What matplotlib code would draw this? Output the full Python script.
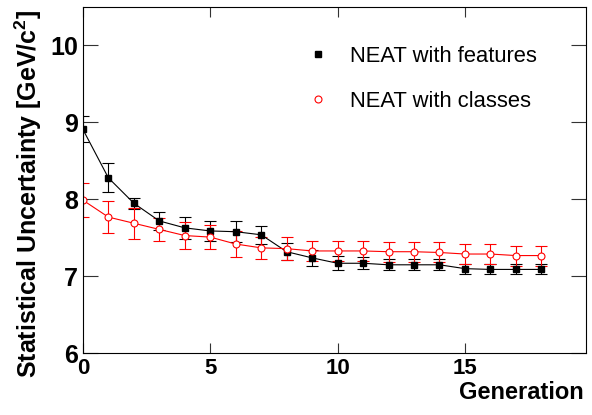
import numpy as np
import matplotlib
matplotlib.use('Agg')
import matplotlib.pyplot as plt
from matplotlib.lines import Line2D

plt.rcParams['font.family'] = ['Liberation Sans', 'DejaVu Sans']
plt.rcParams['mathtext.fontset'] = 'custom'
plt.rcParams['mathtext.rm'] = 'Liberation Sans:bold'

# data
generation = list(range(19))
feat_val = [8.91, 8.28, 7.95, 7.72, 7.63, 7.59, 7.58, 7.54, 7.32, 7.24,
            7.17, 7.17, 7.15, 7.15, 7.15, 7.10, 7.09, 7.09, 7.09]
feat_err = [0.17, 0.19, 0.07, 0.12, 0.14, 0.13, 0.14, 0.12, 0.11, 0.10,
            0.09, 0.08, 0.07, 0.07, 0.07, 0.065, 0.065, 0.065, 0.065]
cls_val = [7.99, 7.77, 7.69, 7.61, 7.53, 7.51, 7.42, 7.37, 7.36, 7.33,
           7.33, 7.33, 7.32, 7.32, 7.31, 7.29, 7.29, 7.27, 7.27]
cls_err = [0.22, 0.21, 0.20, 0.15, 0.17, 0.16, 0.17, 0.14, 0.15, 0.13,
           0.13, 0.13, 0.13, 0.13, 0.13, 0.13, 0.13, 0.13, 0.13]
xticks = [0, 5, 10, 15]
yticks = [6, 7, 8, 9, 10]

fig = plt.figure(figsize=(5.92, 4.15), dpi=100)
ax = fig.add_axes([82.9/592, 1-353.3/415, (585.7-82.9)/592, (353.3-7)/415])

ax.errorbar(generation, feat_val, yerr=feat_err, color='black', lw=0.8,
            marker='s', ms=4.5, mfc='black', mec='black', capsize=4.5,
            elinewidth=0.8, capthick=0.8)
ax.errorbar(generation, cls_val, yerr=cls_err, color='#ff0000', lw=0.8,
            marker='o', ms=5, mfc='white', mec='#ff0000', mew=0.8,
            capsize=4.5, elinewidth=0.8, capthick=0.8)

ax.set_xlim(0, 19.74)
ax.set_ylim(6, 10.5)
ax.set_xticks(xticks)
ax.set_yticks(yticks)
for s in ax.spines.values():
    s.set_linewidth(0.8)

ax.tick_params(axis='y', direction='in', length=10.5, width=0.8, color='#333333',
               left=True, right=True, pad=3.6, labelsize=18)
ax.tick_params(axis='x', direction='in', length=7.2, width=0.8, color='#333333',
               bottom=True, top=True, pad=3.6, labelsize=16)
for lab in ax.get_xticklabels() + ax.get_yticklabels():
    lab.set_fontweight('bold')

fig.text(28/592, 1-10/415, 'Statistical Uncertainty [GeV/c$^{\\mathrm{2}}$]',
         rotation=90, ha='center', va='top', fontsize=18, fontweight='bold')
fig.text(584/592, 1-399.3/415, 'Generation', ha='right', va='baseline',
         fontsize=17, fontweight='bold')

handles = [Line2D([], [], ls='none', marker='s', ms=4.2, color='black'),
           Line2D([], [], ls='none', marker='o', ms=5, mfc='white',
                  mec='#ff0000', mew=0.8)]
ax.legend(handles, ['NEAT with features', 'NEAT with classes'],
          loc='center left', bbox_to_anchor=(306.6/592, 1-79/415),
          bbox_transform=fig.transFigure, frameon=False, fontsize=15.8,
          handlelength=1.0, handletextpad=1.0, borderpad=0, labelspacing=1.1,
          borderaxespad=0)

fig.savefig('out.png', dpi=100)
